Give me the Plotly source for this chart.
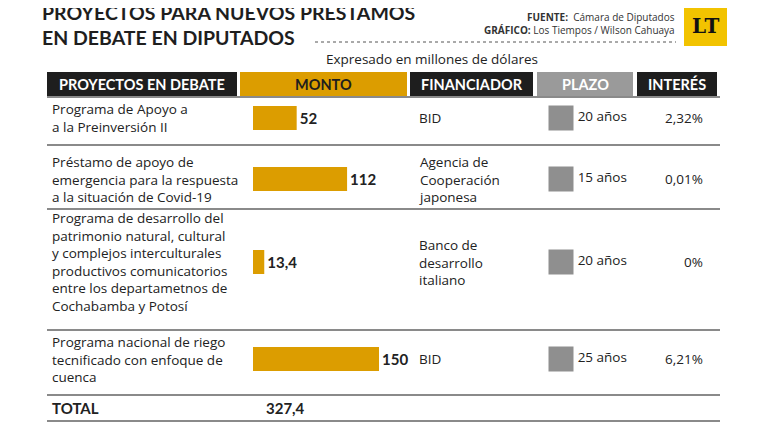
import plotly.graph_objects as go

proyectos = [
    "Programa de Apoyo a<br>a la Preinversión II",
    "Préstamo de apoyo de<br>emergencia para la respuesta<br>a la situación de Covid-19",
    "Programa de desarrollo del<br>patrimonio natural, cultural<br>y complejos interculturales<br>productivos comunicatorios<br>entre los departametnos de<br>Cochabamba y Potosí",
    "Programa nacional de riego<br>tecnificado con enfoque de<br>cuenca",
]
montos = [52, 112, 13.4, 150]
montos_txt = ["52", "112", "13,4", "150"]
financiadores = ["BID", "Agencia de<br>Cooperación<br>japonesa", "Banco de<br>desarrollo<br>italiano", "BID"]
plazos = ["20 años", "15 años", "20 años", "25 años"]
intereses = ["2,32%", "0,01%", "0%", "6,21%"]
total_txt = "327,4"
encabezados = ["PROYECTOS EN DEBATE", "MONTO", "FINANCIADOR", "PLAZO", "INTERÉS"]

# layout in page pixels (y grows downward)
fila_y = [118, 179, 262, 359]
separadores = [97, 145, 209, 330, 395, 421]
x0_barra, escala = 253, 0.84
ORO = "#dc9d00"
FONT = "Open Sans"
FS = 13.5

fig = go.Figure()

fig.add_trace(go.Bar(
    y=fila_y, x=[m * escala for m in montos], base=x0_barra, orientation="h",
    width=24, marker=dict(color=ORO, line=dict(width=0)), hoverinfo="skip",
    text=["<b>" + t + "</b>" for t in montos_txt], textposition="outside",
    textfont=dict(family="Lato", size=15, color="#222"), cliponaxis=False,
))
# plazo squares
fig.add_trace(go.Scatter(
    x=[561] * 4, y=fila_y, mode="markers+text", hoverinfo="skip",
    marker=dict(symbol="square", size=25, color="#8f8f8f"),
    text=plazos, textposition="middle right",
    textfont=dict(family=FONT, size=FS, color="#222"),
))

shapes = []
cols = [(47, 237, "#1e1e1e", "white"), (240, 407, ORO, "#1e1e1e"),
        (410, 533, "#1e1e1e", "white"), (537, 633, "#9a9a9a", "white"),
        (637, 717, "#1e1e1e", "white")]
ann = []
for (a, b, c, tc), h in zip(cols, encabezados):
    shapes.append(dict(type="rect", x0=a, x1=b, y0=72, y1=96, fillcolor=c, line=dict(width=0)))
    ann.append(dict(x=(a + b) / 2, y=84, text="<b>" + h + "</b>", showarrow=False,
                    font=dict(family="Lato", size=14.5, color=tc)))
for y in separadores:
    shapes.append(dict(type="line", x0=47, x1=720, y0=y, y1=y, line=dict(color="#8a8a8a", width=2)))
# dotted rules in header
for x0, x1, y in [(40, 676, 7), (315, 676, 42)]:
    shapes.append(dict(type="line", x0=x0, x1=x1, y0=y, y1=y, line=dict(color="#555", width=1, dash="dot")))
# logo
shapes.append(dict(type="rect", x0=684, x1=727, y0=7, y1=46, fillcolor="#f2c300", line=dict(width=0)))
ann.append(dict(x=705, y=26, text="<b>LT</b>", showarrow=False,
                font=dict(family="DejaVu Serif", size=20, color="#111")))

for y, p, f, i in zip(fila_y, proyectos, financiadores, intereses):
    ann.append(dict(x=50, y=y, text=p, showarrow=False, xanchor="left", align="left",
                    font=dict(family=FONT, size=FS, color="#222")))
    ann.append(dict(x=417, y=y, text=f, showarrow=False, xanchor="left", align="left",
                    font=dict(family=FONT, size=FS, color="#222")))
    ann.append(dict(x=705, y=y, text=i, showarrow=False, xanchor="right",
                    font=dict(family=FONT, size=FS, color="#222")))

ann += [
    dict(x=50, y=408, text="<b>TOTAL</b>", showarrow=False, xanchor="left",
         font=dict(family="Lato", size=15, color="#222")),
    dict(x=264, y=408, text="<b>" + total_txt + "</b>", showarrow=False, xanchor="left",
         font=dict(family="Lato", size=15, color="#222")),
    dict(x=40, y=25, text="<b>PROYECTOS PARA NUEVOS PRÉSTAMOS<br>EN DEBATE EN DIPUTADOS</b>",
         showarrow=False, xanchor="left", align="left",
         font=dict(family="Lato", size=19.5, color="#1e1e1e")),
    dict(x=677, y=17, text="<b>FUENTE:</b>  Cámara de Diputados", showarrow=False, xanchor="right",
         font=dict(family=FONT, size=10, color="#333")),
    dict(x=677, y=30, text="<b>GRÁFICO:</b> Los Tiempos / Wilson Cahuaya", showarrow=False, xanchor="right",
         font=dict(family=FONT, size=10, color="#333")),
    dict(x=432, y=59, text="Expresado en millones de dólares", showarrow=False,
         font=dict(family=FONT, size=13.5, color="#222")),
]

# page body has an 8px margin, so offset the data range to keep page-pixel coordinates
fig.update_layout(
    width=770, height=430, margin=dict(l=0, r=0, t=0, b=0),
    plot_bgcolor="white", paper_bgcolor="white", showlegend=False,
    xaxis=dict(range=[8, 778], visible=False, fixedrange=True),
    yaxis=dict(range=[438, 8], visible=False, fixedrange=True),
    shapes=shapes, annotations=ann,
)
fig.write_html("out.html")
